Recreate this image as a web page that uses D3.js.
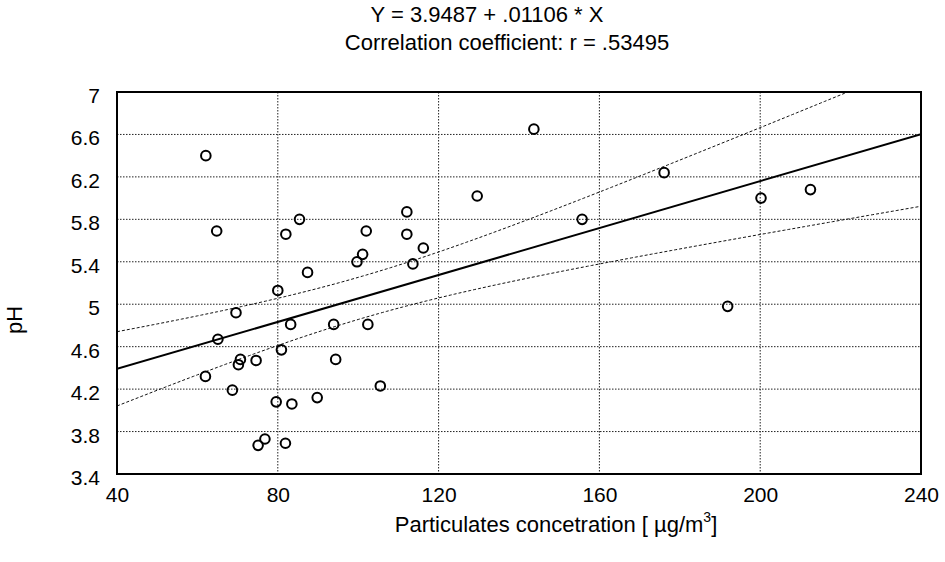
<!DOCTYPE html>
<html><head><meta charset="utf-8">
<script src="https://cdn.jsdelivr.net/npm/d3@7/dist/d3.min.js"></script>
<style>body{margin:0;background:#fff}svg{display:block}text{font-family:"Liberation Sans",Arial,sans-serif;fill:#000}</style>
</head><body>
<script>
const xValues = [62.1,64.8,82.0,85.4,102.0,112.1,112.1,101.1,99.7,87.4,
  116.2,113.6,143.7,129.6,155.7,176.1,200.2,212.5,191.9,80.0,
  69.6,83.2,93.9,102.4,65.1,80.9,70.7,70.2,74.6,94.4,
  62.0,68.7,105.5,79.6,83.5,89.8,76.8,75.1,81.9];
const yValues = [6.40,5.69,5.66,5.80,5.69,5.87,5.66,5.47,5.40,5.30,
  5.53,5.38,6.65,6.02,5.80,6.24,6.00,6.08,4.98,5.13,
  4.92,4.81,4.81,4.81,4.67,4.57,4.48,4.43,4.47,4.48,
  4.32,4.19,4.23,4.08,4.06,4.12,3.73,3.67,3.69];
const intercept = 3.9487, slope = 0.01106;
// 95% band half-widths at the x-range ends
const bandEndX = [40, 240];
const bandEndHalf = [0.35, 0.68];
const xTicks = [40,80,120,160,200,240];
const yTicks = [3.4,3.8,4.2,4.6,5,5.4,5.8,6.2,6.6,7];
const titleLines = ["Y = 3.9487 + .01106 * X","Correlation coefficient: r = .53495"];

const W=945,H=562;
const L=117,R=921,T=92,B=474;
const svg=d3.select("body").append("svg").attr("width",W).attr("height",H);
const x=d3.scaleLinear().domain([40,240]).range([L,R]);
const y=d3.scaleLinear().domain([3.4,7]).range([B,T]);

// grid
const g=svg.append("g");
g.selectAll(".vg").data(xTicks.slice(1,-1)).join("line")
 .attr("x1",d=>x(d)).attr("x2",d=>x(d)).attr("y1",T).attr("y2",B)
 .attr("stroke","#222").attr("stroke-width",1).attr("stroke-dasharray","1.5,1.5");
g.selectAll(".hg").data(yTicks.slice(1,-1)).join("line")
 .attr("x1",L).attr("x2",R).attr("y1",d=>y(d)).attr("y2",d=>y(d))
 .attr("stroke","#222").attr("stroke-width",1).attr("stroke-dasharray","1.5,1.5");

// confidence band: hyperbola centred on mean of x
const xbar=d3.mean(xValues);
const d0=(bandEndX[0]-xbar)**2, d1=(bandEndX[1]-xbar)**2;
const bb=(bandEndHalf[1]**2-bandEndHalf[0]**2)/(d1-d0);
const aa=bandEndHalf[0]**2-bb*d0;
const half=v=>Math.sqrt(aa+bb*(v-xbar)*(v-xbar));
const xs=d3.range(40,240.01,1);

svg.append("clipPath").attr("id","clip").append("rect").attr("x",L).attr("y",T).attr("width",R-L).attr("height",B-T);
const pg=svg.append("g").attr("clip-path","url(#clip)");
const line=d3.line().x(d=>x(d[0])).y(d=>y(d[1]));
pg.append("path").attr("d",line(xs.map(v=>[v,intercept+slope*v+half(v)])))
 .attr("fill","none").attr("stroke","#111").attr("stroke-width",1).attr("stroke-dasharray","3,2");
pg.append("path").attr("d",line(xs.map(v=>[v,intercept+slope*v-half(v)])))
 .attr("fill","none").attr("stroke","#111").attr("stroke-width",1).attr("stroke-dasharray","3,2");
pg.append("path").attr("d",line([[40,intercept+slope*40],[240,intercept+slope*240]]))
 .attr("fill","none").attr("stroke","#000").attr("stroke-width",2);

// points
svg.append("g").selectAll("circle").data(xValues.map((v,i)=>[v,yValues[i]])).join("circle")
 .attr("cx",d=>x(d[0])).attr("cy",d=>y(d[1])).attr("r",4.8)
 .attr("fill","none").attr("stroke","#000").attr("stroke-width",2);

// frame
svg.append("rect").attr("x",L).attr("y",T).attr("width",R-L).attr("height",B-T)
 .attr("fill","none").attr("stroke","#000").attr("stroke-width",2);

// axes
const xa=svg.append("g").attr("transform",`translate(0,${B})`)
 .call(d3.axisBottom(x).tickValues(xTicks).tickSize(0).tickPadding(13).tickFormat(d3.format("d")));
xa.select(".domain").remove();
xa.selectAll("text").attr("font-size",21).style("font-family","'Liberation Sans',Arial,sans-serif");
const ya=svg.append("g").attr("transform",`translate(${L},0)`)
 .call(d3.axisLeft(y).tickValues(yTicks).tickSize(0).tickPadding(17).tickFormat(d=>String(d)));
ya.select(".domain").remove();
ya.selectAll("text").attr("font-size",21).attr("dy","0.5em").style("font-family","'Liberation Sans',Arial,sans-serif");

// titles
svg.append("text").attr("x",487).attr("y",22).attr("text-anchor","middle").attr("font-size",22).text(titleLines[0]);
svg.append("text").attr("x",507).attr("y",50).attr("text-anchor","middle").attr("font-size",22).text(titleLines[1]);
const xt=svg.append("text").attr("x",556).attr("y",532).attr("text-anchor","middle").attr("font-size",22);
xt.append("tspan").text("Particulates concetration [ µg/m");
xt.append("tspan").attr("dy",-10).attr("font-size",14).text("3");
xt.append("tspan").attr("dy",10).text("]");
svg.append("text").attr("transform","translate(22,320) rotate(-90)").attr("text-anchor","middle").attr("font-size",22).text("pH");
</script>
</body></html>
